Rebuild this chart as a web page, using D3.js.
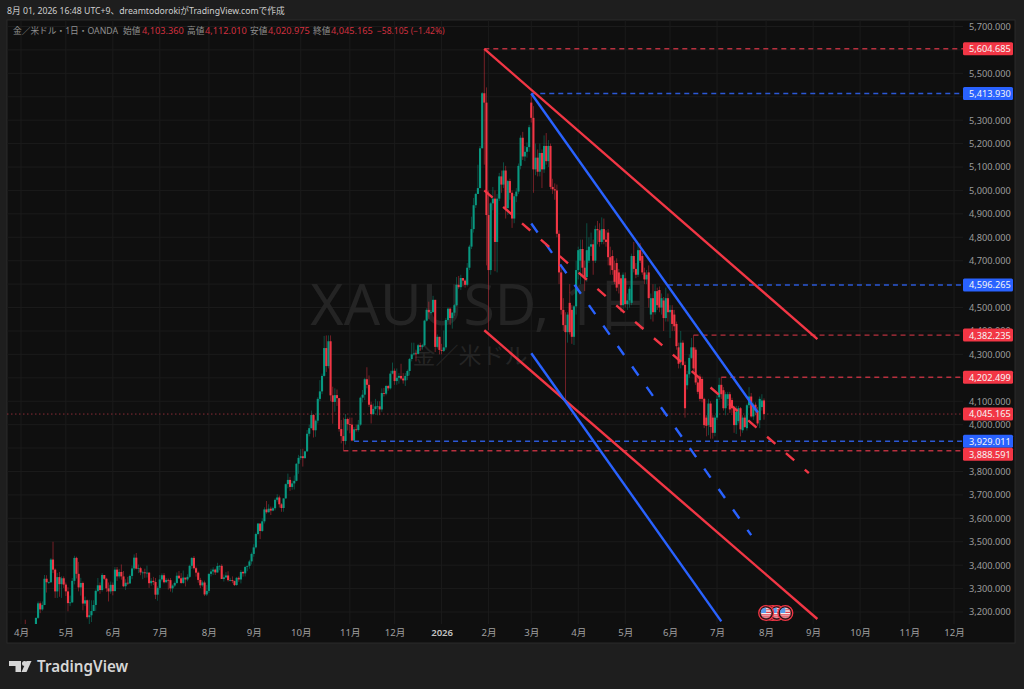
<!DOCTYPE html>
<html>
<head>
<meta charset="utf-8">
<title>XAUUSD</title>
<script src="https://cdn.jsdelivr.net/npm/d3@7"></script>
<style>
body { margin: 0; background: #1e1e1e; }
text { font-family: 'Noto Sans', 'Noto Sans CJK JP', sans-serif; }
</style>
</head>
<body>
<script>
// daily candles (April 2025 - July 2026, one line per month)
var opens = [
3123,3113,3134,3114,3037,2982,2982,3082,3175,3237,3211,3230,3342,3327,3327,3424,3381,3288,3349,3319,3344,3317,
3288,3238,3241,3333,3431,3363,3305,3324,3236,3250,3178,3186,3204,3230,3290,3314,3294,3358,3342,3301,3288,3316,
3289,3381,3352,3371,3352,3310,3325,3322,3354,3386,3432,3385,3387,3369,3369,3368,3368,3323,3333,3328,3274,
3303,3339,3357,3327,3337,3336,3301,3313,3324,3355,3344,3324,3347,3339,3350,3397,3431,3387,3368,3337,3314,3326,3275,
3290,3363,3373,3381,3369,3396,3397,3341,3348,3356,3336,3336,3332,3315,3346,3339,3371,3365,3393,3397,3416,
3448,3476,3533,3578,3546,3587,3638,3626,3641,3633,3643,3679,3689,3660,3644,3685,3746,3764,3734,3749,3760,3833,
3858,3865,3857,3886,3961,3985,4041,3976,4017,4110,4142,4208,4327,4250,4356,4125,4097,4126,4113,3981,3951,3930,4024,
4002,4000,3932,3980,3977,4000,4115,4128,4194,4170,4085,4045,4067,4078,4078,4065,4135,4132,4165,4155,
4218,4230,4186,4200,4208,4197,4189,4208,4229,4280,4300,4304,4302,4339,4332,4339,4444,4490,4480,4480,4533,4332,4375,
4319,4315,4330,4447,4495,4455,4478,4510,4597,4587,4626,4615,4597,4670,4760,4835,4937,4985,5010,5180,5415,5375,
4895,4660,4945,4965,4780,4965,5060,5025,5085,4925,5040,4990,4880,4975,4995,5105,5225,5145,5165,5185,
5375,5310,5090,5140,5080,5160,5090,5190,5125,5190,5015,5005,5000,4815,4650,4490,4425,4395,4520,4490,4375,4505,
4660,4700,4750,4670,4630,4700,4760,4770,4700,4835,4830,4780,4835,4790,4820,4715,4720,4660,4690,4650,4625,4510,
4625,4515,4530,4520,4720,4665,4640,4745,4720,4650,4620,4650,4470,4540,4480,4570,4575,4500,4530,4455,4540,
4480,4490,4470,4430,4330,4270,4350,4255,4168,4215,4285,4330,4320,4180,4205,4195,4110,4030,3998,4090,4030,3965,
4030,4117,4170,4147,4070,4110,4130,4105,4070,3998,4015,4070,3976,4030,3985,4083,4120,4035,4085,4060,4019,4075,4103.36
];
var highs = [
3149,3138,3167,3135,3054,3020,3099,3176,3245,3245,3245,3358,3357,3330,3430,3500,3386,3367,3371,3352,3352,3326,
3306,3270,3345,3440,3436,3414,3346,3330,3266,3253,3252,3250,3250,3296,3345,3326,3366,3352,3346,3326,3330,3326,
3392,3392,3384,3403,3375,3340,3350,3360,3398,3446,3452,3403,3393,3376,3385,3398,3370,3345,3350,3345,3310,
3358,3365,3366,3345,3343,3345,3318,3330,3369,3375,3366,3377,3345,3361,3402,3434,3439,3394,3373,3346,3334,3334,3315,
3364,3385,3391,3385,3410,3400,3404,3360,3370,3374,3346,3352,3334,3350,3352,3379,3376,3393,3397,3423,3454,
3489,3539,3578,3565,3600,3647,3674,3660,3650,3650,3685,3703,3697,3665,3686,3749,3791,3777,3761,3783,3835,3871,
3895,3897,3889,3977,4000,4060,4045,4022,4117,4190,4218,4379,4381,4381,4381,4162,4155,4150,4114,4020,4030,4045,4030,
4030,4030,3990,4000,4020,4120,4148,4200,4245,4210,4098,4090,4110,4100,4100,4155,4157,4170,4170,4230,
4265,4240,4240,4220,4260,4220,4220,4235,4285,4350,4350,4320,4345,4350,4345,4448,4497,4525,4490,4550,4530,4385,4375,
4345,4402,4455,4500,4500,4480,4515,4630,4635,4640,4625,4620,4690,4768,4888,4968,4990,5110,5190,5420,5604.685,5440,
5000,4950,5015,5000,4985,5075,5085,5120,5105,5045,5050,5000,4985,5010,5115,5235,5250,5190,5205,5280,
5413.93,5360,5200,5175,5200,5175,5235,5245,5215,5200,5050,5030,5025,4830,4680,4540,4480,4480,4600,4510,4510,4700,
4760,4790,4790,4700,4860,4800,4820,4790,4850,4870,4860,4885,4880,4830,4835,4760,4745,4700,4710,4665,4640,4650,
4650,4560,4590,4730,4780,4690,4770,4775,4735,4670,4660,4680,4560,4600,4600,4585,4590,4560,4545,4585,4560,
4510,4510,4490,4440,4350,4400,4360,4270,4230,4300,4370,4382.235,4330,4205,4215,4205,4115,4040,4110,4100,4040,4040,
4125,4200,4202.499,4160,4140,4140,4140,4115,4080,4080,4080,4075,4040,4040,4090,4160,4135,4095,4095,4075,4120,4130,4112.01
];
var lows = [
3100,3100,3054,3015,2957,2970,2970,3065,3170,3195,3205,3229,3283,3320,3324,3366,3260,3260,3265,3260,3303,3268,
3203,3225,3239,3318,3343,3288,3270,3207,3226,3172,3122,3157,3205,3205,3285,3278,3287,3337,3286,3245,3278,3271,
3289,3333,3343,3338,3306,3294,3315,3320,3340,3378,3382,3366,3357,3340,3346,3347,3303,3312,3315,3255,3248,
3295,3330,3322,3325,3296,3287,3283,3306,3320,3341,3320,3320,3309,3331,3345,3384,3381,3351,3325,3302,3308,3268,3268,
3281,3352,3358,3358,3367,3378,3341,3330,3345,3330,3331,3323,3311,3312,3329,3322,3351,3352,3374,3385,3403,
3436,3471,3527,3511,3542,3578,3620,3624,3614,3630,3634,3671,3646,3628,3628,3684,3728,3717,3722,3723,3758,3790,
3850,3821,3855,3884,3950,3983,3945,3948,4005,4100,4130,4205,4225,4240,4100,4004,4055,4080,3970,3920,3888.591,3915,3975,
3963,3929.011,3930,3970,3970,3995,4095,4105,4155,4075,4005,4040,4060,4040,4040,4055,4120,4125,4145,4150,
4215,4170,4170,4175,4190,4175,4165,4190,4210,4270,4295,4270,4300,4315,4320,4335,4440,4450,4470,4480,4310,4325,4300,
4300,4310,4320,4440,4425,4410,4465,4505,4580,4575,4590,4585,4590,4660,4750,4820,4925,4985,5010,5180,5110,4680,
4403,4640,4915,4655,4650,4955,4990,5010,4880,4895,4960,4840,4860,4950,4985,5090,5130,5125,5140,5165,
5290,4990,5065,5060,5060,5010,5075,5110,5100,5005,4985,4960,4800,4600,4470,4400,4104,4350,4385,4345,4340,4470,
4620,4600,4630,4570,4610,4690,4720,4640,4690,4770,4760,4770,4770,4760,4680,4640,4640,4600,4570,4560,4480,4490,
4500,4490,4500,4510,4650,4625,4630,4690,4640,4600,4600,4500,4450,4440,4470,4490,4480,4470,4400,4440,4440,
4370,4400,4400,4320,4240,4240,4250,4030,4150,4200,4280,4230,4170,4130,4100,4095,3985,3950,3955,3940,3940,3950,
4020,4105,4110,4060,4040,4080,4050,4050,3965,3960,4005,3950,3965,3985,3975,4070,4030,4020,4040,3995,3985,4060,4020.975
];
var closes = [
3113,3134,3114,3037,2982,2982,3082,3175,3237,3211,3230,3342,3327,3327,3424,3381,3288,3349,3319,3344,3317,3288,
3238,3241,3333,3431,3363,3305,3324,3236,3250,3178,3186,3204,3230,3290,3314,3294,3358,3342,3301,3288,3316,3289,
3381,3352,3371,3352,3310,3325,3322,3354,3386,3432,3385,3387,3369,3369,3368,3368,3323,3333,3328,3274,3303,
3339,3357,3327,3337,3336,3301,3313,3324,3355,3344,3324,3347,3339,3350,3397,3431,3387,3368,3337,3314,3326,3275,3290,
3363,3373,3381,3369,3396,3397,3341,3348,3356,3336,3336,3332,3315,3346,3339,3371,3365,3393,3397,3416,3448,
3476,3533,3578,3546,3587,3638,3626,3641,3633,3643,3679,3689,3660,3644,3685,3746,3764,3734,3749,3760,3833,3858,
3865,3857,3886,3961,3985,4041,3976,4017,4110,4142,4208,4327,4250,4356,4125,4097,4126,4113,3981,3951,3930,4024,4002,
4000,3932,3980,3977,4000,4115,4128,4194,4170,4085,4045,4067,4078,4078,4065,4135,4132,4165,4155,4218,
4230,4186,4200,4208,4197,4189,4208,4229,4280,4300,4304,4302,4339,4332,4339,4444,4490,4480,4480,4533,4332,4375,4319,
4315,4330,4447,4495,4455,4478,4510,4597,4587,4626,4615,4597,4670,4760,4835,4937,4985,5010,5180,5415,5375,4895,
4660,4945,4965,4780,4965,5060,5025,5085,4925,5040,4990,4880,4975,4995,5105,5225,5145,5165,5185,5270,
5310,5090,5140,5080,5160,5090,5190,5125,5190,5015,5005,5000,4815,4650,4490,4425,4395,4470,4395,4375,4505,4660,
4745,4750,4670,4630,4745,4760,4770,4700,4835,4830,4780,4835,4790,4780,4715,4680,4660,4610,4585,4600,4510,4640,
4515,4530,4580,4720,4665,4640,4745,4700,4650,4620,4640,4540,4540,4480,4570,4510,4500,4540,4455,4540,4480,
4490,4430,4420,4335,4260,4350,4255,4070,4215,4285,4330,4240,4180,4140,4110,4110,3998,3995,4090,3990,3965,4030,
4110,4170,4130,4070,4130,4130,4065,4070,3998,4055,4070,3980,4030,3990,4083,4120,4035,4085,4060,4005,4110,4103,4045.165
];

// grid runs on every 100, labels skip the ones sitting under a price tag
var priceTicks = [3200,3300,3400,3500,3600,3700,3800,3900,4000,4100,4200,4300,4400,4500,4600,4700,4800,4900,5000,5100,5200,5300,5400,5500,5600,5700];
var priceLabels = [3200,3300,3400,3500,3600,3700,3800,4000,4100,4300,4400,4500,4700,4800,4900,5000,5100,5200,5300,5500,5700];
var monthBars = [0,21,43,65,88,109,131,154,175,197,219,239,261,283,304,326,349,371,393,416,437];
var monthLabels = ["4月","5月","6月","7月","8月","9月","10月","11月","12月","2026","2月","3月","4月","5月","6月","7月","8月","9月","10月","11月","12月"];

// drawn lines as [bar, price] end points
var redTop = [[217,5604.685],[373,4365]];
var redMiddle = [[217,5000],[369,3793]];
var redBottom = [[217,4403],[373,3170]];
var blueTop = [[239,5413.93],[345,4053]];
var blueMiddle = [[239,4859],[342,3528]];
var blueBottom = [[239,4305],[328,3160]];

// horizontal levels as [price, first bar]
var redLevels = [[5604.685,217],[4382.235,315],[4202.499,328],[3888.591,151]];
var blueLevels = [[5413.93,239],[4596.265,303],[3929.011,156]];
var lastPrice = 4045.165;
var eventBars = [352,354,358,349];

var w = 1024, h = 689;
var red = "#F23645", green = "#089981", blue = "#2962FF";
var paneLeft = 7, paneRight = 1015, paneTop = 20, paneBottom = 643, plotBottom = 624, axisLeft = 963;

var x = d3.scaleLinear().domain([0, 348]).range([21, 764]);
var y = d3.scaleLinear().domain([3200, 5700]).range([612, 26.5]);

var svg = d3.select("body").append("svg")
    .attr("width", w)
    .attr("height", h)
    .style("display", "block");

svg.append("rect").attr("width", w).attr("height", h).attr("fill", "#1e1e1e");
svg.append("rect")
    .attr("x", paneLeft).attr("y", paneTop)
    .attr("width", paneRight - paneLeft).attr("height", paneBottom - paneTop)
    .attr("fill", "#0f0f0f")
    .attr("stroke", "#2a2a2a");

svg.append("defs").append("clipPath").attr("id", "plot")
    .append("rect")
    .attr("x", paneLeft).attr("y", paneTop)
    .attr("width", axisLeft - paneLeft).attr("height", plotBottom - paneTop);

// grid
var grid = svg.append("g").attr("stroke", "#1b1b1b").attr("stroke-width", 1);
grid.selectAll(".h").data(priceTicks).enter().append("line")
    .attr("x1", paneLeft).attr("x2", axisLeft)
    .attr("y1", function(d){ return y(d); })
    .attr("y2", function(d){ return y(d); });
grid.selectAll(".v").data(monthBars).enter().append("line")
    .attr("y1", paneTop).attr("y2", plotBottom)
    .attr("x1", function(d){ return x(d); })
    .attr("x2", function(d){ return x(d); });

// watermark
svg.append("text")
    .attr("x", 482).attr("y", 325)
    .attr("text-anchor", "middle")
    .attr("font-size", 57)
    .attr("fill", "#242424")
    .text("XAUUSD, 1日");
svg.append("text")
    .attr("x", 470).attr("y", 364)
    .attr("text-anchor", "middle")
    .attr("font-size", 23)
    .attr("fill", "#242424")
    .text("金／米ドル");

var plot = svg.append("g").attr("clip-path", "url(#plot)");

// last price line
plot.append("line")
    .attr("x1", paneLeft).attr("x2", axisLeft)
    .attr("y1", y(lastPrice)).attr("y2", y(lastPrice))
    .attr("stroke", "#8a2c36")
    .attr("stroke-dasharray", "1.5 2.5");

// candles
var bars = d3.range(closes.length);
function barColor(i){
    return closes[i] >= opens[i] ? green : red;
}
plot.selectAll(".wick").data(bars).enter().append("line")
    .attr("class", "wick")
    .attr("x1", function(i){ return x(i); })
    .attr("x2", function(i){ return x(i); })
    .attr("y1", function(i){ return y(highs[i]); })
    .attr("y2", function(i){ return y(lows[i]); })
    .attr("stroke", barColor)
    .attr("stroke-width", 0.7)
    .attr("opacity", 0.65);
plot.selectAll(".body").data(bars).enter().append("rect")
    .attr("class", "body")
    .attr("x", function(i){ return x(i) - 1.05; })
    .attr("width", 2.1)
    .attr("y", function(i){ return y(Math.max(opens[i], closes[i])); })
    .attr("height", function(i){ return Math.max(0.8, Math.abs(y(opens[i]) - y(closes[i]))); })
    .attr("fill", barColor);

// horizontal levels
function drawLevels(levels, color){
    plot.selectAll(null).data(levels).enter().append("line")
        .attr("x1", function(d){ return x(d[1]); })
        .attr("x2", axisLeft)
        .attr("y1", function(d){ return y(d[0]); })
        .attr("y2", function(d){ return y(d[0]); })
        .attr("stroke", color)
        .attr("stroke-width", 1.4)
        .attr("stroke-dasharray", "5 4");
}
drawLevels(redLevels, "#b8303e");
drawLevels(blueLevels, "#2b58d6");

// trend lines
var trend = d3.line()
    .x(function(d){ return x(d[0]); })
    .y(function(d){ return y(d[1]); });
function drawTrend(points, color, dashed){
    plot.append("path")
        .attr("d", trend(points))
        .attr("fill", "none")
        .attr("stroke", color)
        .attr("stroke-width", 2.4)
        .attr("stroke-dasharray", dashed ? "11 14" : null);
}
drawTrend(redBottom, red);
drawTrend(blueBottom, blue);
drawTrend(blueTop, blue);
drawTrend(redTop, red);
drawTrend(blueMiddle, blue, true);
drawTrend(redMiddle, red, true);

// economic event flags
var flag = svg.selectAll(".flag").data(eventBars).enter().append("g")
    .attr("class", "flag")
    .attr("transform", function(d){ return "translate(" + x(d) + "," + y(3196) + ")"; });
flag.append("circle").attr("r", 7.4).attr("fill", "#141414").attr("stroke", red).attr("stroke-width", 1.3);
flag.append("circle").attr("r", 5.4).attr("fill", "#f2f2f2").attr("stroke", "#7a1f2a").attr("stroke-width", 0.6);
flag.append("path").attr("d", "M-5,-2.6A5.4,5.4 0 0 1 0,-5.4L0,0L-5.3,0Z").attr("fill", "#5a9bea");
flag.append("path").attr("d", "M0,-3.2H4.4M0,-0.6H5.3M-5,2H5M-3.5,4H3.5").attr("stroke", "#e2404e").attr("stroke-width", 1.2);

// axes
var priceAxis = d3.axisRight(y)
    .tickValues(priceLabels)
    .tickFormat(d3.format(",.3f"))
    .tickSize(0)
    .tickPadding(0);
var pa = svg.append("g")
    .attr("transform", "translate(969,0)")
    .call(priceAxis);
pa.select(".domain").remove();
pa.selectAll("text").attr("fill", "#9c9c9c").attr("font-size", 9.2);

var timeAxis = d3.axisBottom(x)
    .tickValues(monthBars)
    .tickFormat(function(d, i){ return monthLabels[i]; })
    .tickSize(0)
    .tickPadding(0);
var ta = svg.append("g")
    .attr("transform", "translate(0,629)")
    .call(timeAxis);
ta.select(".domain").remove();
ta.selectAll("text")
    .attr("fill", function(d, i){ return monthLabels[i] == "2026" ? "#c4c4c4" : "#a0a0a0"; })
    .attr("font-weight", function(d, i){ return monthLabels[i] == "2026" ? 600 : 400; })
    .attr("font-size", 9.6);

// price tags on the axis, a tag that would hit the one above slides down
var tags = redLevels.map(function(d){ return [d[0], red]; })
    .concat(blueLevels.map(function(d){ return [d[0], blue]; }))
    .concat([[lastPrice, red]])
    .sort(function(a, b){ return b[0] - a[0]; });
var tagY = [];
tags.forEach(function(d, i){
    var t = y(d[0]);
    if (i > 0 && t - tagY[i - 1] < 13) t = tagY[i - 1] + 13;
    tagY.push(t);
});
var tag = svg.selectAll(".tag").data(tags).enter().append("g")
    .attr("class", "tag")
    .attr("transform", function(d, i){ return "translate(963," + tagY[i] + ")"; });
tag.append("rect")
    .attr("y", -6.5).attr("width", 50).attr("height", 13).attr("rx", 1.5)
    .attr("fill", function(d){ return d[1]; });
tag.append("text")
    .attr("x", 6).attr("y", 3.4)
    .attr("fill", "#f5f5f5")
    .attr("font-size", 9.2)
    .text(function(d){ return d3.format(",.3f")(d[0]); });

// header
svg.append("text")
    .attr("x", 7).attr("y", 14)
    .attr("fill", "#cfcfcf")
    .attr("font-size", 8.7)
    .text("8月 01, 2026 16:48 UTC+9、dreamtodorokiがTradingView.comで作成");

var legend = [
    ["金／米ドル・1日・OANDA", 13, "#8f8f8f", 8.7],
    ["始値", 123, "#8f8f8f", 8.7], ["4,103.360", 142, "#d2303f", 9.2],
    ["高値", 187, "#8f8f8f", 8.7], ["4,112.010", 205, "#d2303f", 9.2],
    ["安値", 250, "#8f8f8f", 8.7], ["4,020.975", 268, "#d2303f", 9.2],
    ["終値", 313, "#8f8f8f", 8.7], ["4,045.165", 331, "#d2303f", 9.2],
    ["−58.105 (−1.42%)", 377, "#d2303f", 8.5]
];
svg.selectAll(".legend").data(legend).enter().append("text")
    .attr("class", "legend")
    .attr("x", function(d){ return d[1]; })
    .attr("y", 34)
    .attr("fill", function(d){ return d[2]; })
    .attr("font-size", function(d){ return d[3]; })
    .text(function(d){ return d[0]; });

// footer logo
var logo = svg.append("g").attr("fill", "#d6d6d6");
logo.append("path").attr("d", "M9,661H21V672H15.5V666H9Z");
logo.append("circle").attr("cx", 24.5).attr("cy", 663.6).attr("r", 2.5);
logo.append("path").attr("d", "M26.5,661H31.5L26.5,672H21.5Z");
svg.append("text")
    .attr("x", 37).attr("y", 672)
    .attr("fill", "#d6d6d6")
    .attr("font-size", 15.2)
    .attr("font-weight", 600)
    .text("TradingView");
</script>
</body>
</html>
